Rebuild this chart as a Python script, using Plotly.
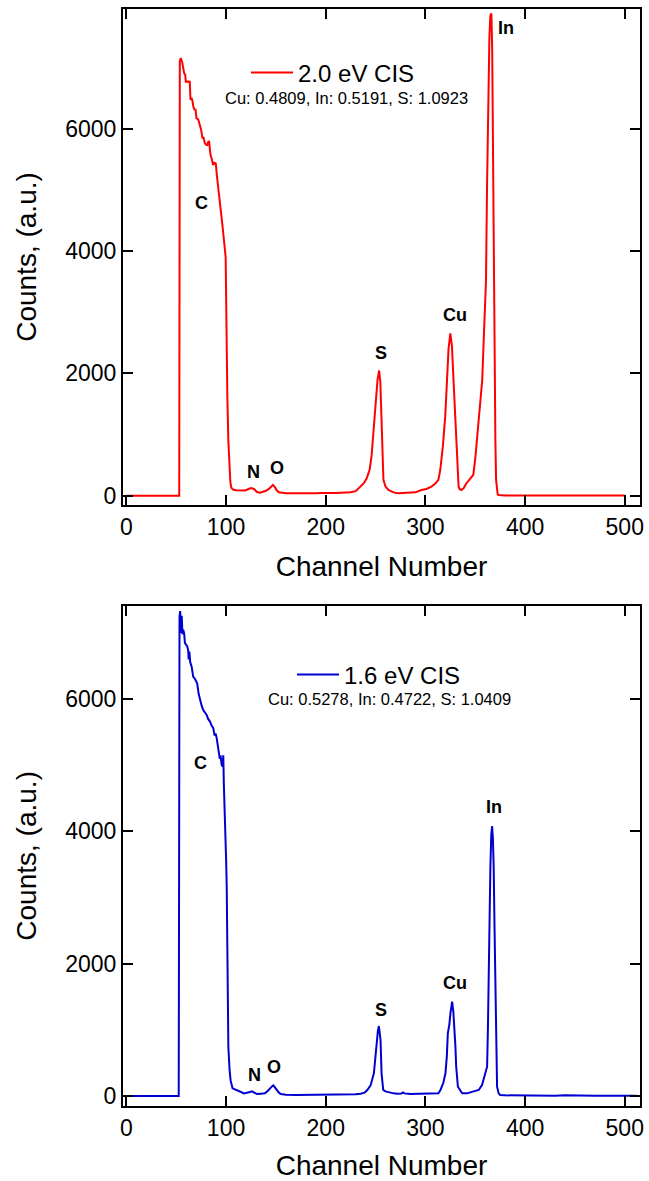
import plotly.graph_objects as go

# ---------------- data ----------------
red_channel = [0, 10, 20, 30, 40, 50, 53, 53.6, 54.6, 56, 57, 58, 59, 59.6, 62, 63.6, 64.3, 65.3, 66.3,
               67.3, 68.6, 69.3, 70.3, 72, 73.6, 75, 76.3, 77.3, 78.7, 80, 81, 82, 83, 83.8, 84.4, 86,
               87, 88.3, 89.7, 91, 92, 93, 94.3, 95.4, 96.8, 97.7, 98.8, 99.6, 100.1, 100.6, 101.3,
               102.3, 103.3, 104.3, 105.3, 107, 110, 113, 116, 119, 122, 125, 128, 131, 134, 137, 140,
               143, 145.5, 147, 149, 151, 153, 156, 160, 165, 170, 175, 180, 185, 190, 195, 200, 205,
               210, 215, 220, 225, 230, 234.5, 238, 241, 244, 246, 247.8, 249.2, 250.5, 252, 253.6,
               254.8, 256.3, 257.2, 257.9, 260, 262.9, 266, 269, 272.9, 278, 284, 290, 296, 301, 306,
               310, 313, 314.9, 317.5, 319.9, 321.7, 323.2, 325, 326.6, 328.2, 330, 331.2, 332.3,
               333.3, 334.3, 336, 338.3, 341, 345, 348, 350, 352.5, 355, 357, 358.4, 359.7, 360.8,
               361.8, 363, 364.2, 365.2, 366.2, 367, 367.8, 368.7, 369.5, 370.2, 370.9, 371.6, 372.5,
               373.5, 376, 380, 390, 400, 420, 440, 460, 480, 500, 512]
red_counts = [0, 0, 0, 0, 0, 0, 0, 7100, 7150, 7080, 6990, 6900, 6880, 6765, 6770, 6765, 6470, 6500,
              6450, 6350, 6300, 6320, 6170, 6150, 6060, 5980, 5840, 5860, 5760, 5740, 5720, 5780, 5785,
              5660, 5570, 5480, 5404, 5440, 5431, 5200, 5070, 4942, 4740, 4560, 4350, 4180, 4020, 3900,
              3200, 2400, 1600, 900, 450, 220, 130, 100, 90, 85, 80, 85, 105, 125, 110, 60, 50, 65, 80,
              110, 150, 175, 140, 85, 55, 45, 42, 40, 38, 42, 36, 40, 38, 44, 40, 42, 44, 48, 50, 55,
              75, 147, 200, 280, 420, 650, 1073, 1400, 1620, 1900, 2046, 1850, 1073, 500, 258, 150,
              94, 70, 50, 40, 45, 50, 55, 94, 110, 147, 200, 258, 420, 805, 1300, 1890, 2400, 2654,
              2450, 1890, 1200, 805, 400, 147, 110, 94, 120, 200, 280, 338, 600, 1070, 1500, 1890,
              2500, 2980, 3525, 5000, 6500, 7500, 7850, 7880, 7300, 5500, 3525, 1890, 900, 258, 90, 20,
              12, 8, 5, 5, 5, 4, 4, 5, 5, 5]

blue_channel = [0, 10, 20, 30, 40, 50, 52.5, 53.3, 54, 54.8, 55.5, 56.3, 57, 58, 58.7, 60, 61, 62,
                62.5, 63.2, 64, 65.5, 66.5, 67, 69, 71, 72.5, 73.8, 75.5, 77.1, 78.5, 80.5, 82, 83.9,
                85.5, 87.2, 88.5, 89.5, 90.6, 91.5, 92.2, 93.5, 94.6, 95.5, 96.6, 97.2, 97.8, 98.5,
                99.5, 100.2, 100.7, 101.2, 102.3, 103.5, 104.5, 106.5, 109, 112, 115, 118, 121, 124,
                126, 128, 131, 135, 139, 142, 144, 146, 147.5, 149, 151, 153, 155, 160, 170, 180, 190,
                200, 210, 220, 230, 235, 239, 241.7, 245, 248.3, 250, 251, 252.3, 253.3, 254.2, 255,
                256, 257.7, 260, 265, 268, 272, 276, 277.5, 279, 285, 290, 300, 308, 313, 315.1, 318,
                320.1, 321.5, 322.5, 324, 325.1, 326.8, 328, 329.2, 330.1, 330.9, 332.6, 336.9, 342,
                345, 349, 353.5, 356.8, 359.2, 361.9, 362.7, 363.5, 364.4, 365.2, 366.1, 366.9, 367.7,
                368.5, 369.4, 370.2, 371, 371.9, 373.5, 375, 380, 390, 400, 410, 420, 430, 440, 450,
                470, 490, 512]
blue_counts = [0, 0, 0, 0, 0, 0, 0, 7250, 7330, 7000, 7260, 6980, 7050, 6990, 6850, 6820, 6800, 6740,
               6600, 6720, 6560, 6490, 6400, 6340, 6300, 6240, 6080, 5990, 5900, 5835, 5800, 5760,
               5700, 5660, 5600, 5560, 5450, 5480, 5410, 5300, 5280, 5120, 5130, 5010, 4980, 5150,
               4700, 4400, 3990, 3500, 3110, 2260, 745, 400, 240, 116, 100, 91, 60, 40, 45, 60, 70,
               50, 30, 35, 40, 80, 116, 145, 160, 130, 90, 50, 30, 20, 15, 15, 15, 15, 15, 18, 25, 35,
               50, 91, 160, 343, 600, 847, 980, 1058, 980, 847, 343, 91, 70, 50, 40, 35, 38, 55, 40,
               30, 30, 30, 35, 40, 91, 200, 343, 600, 948, 1080, 1250, 1426, 1280, 1050, 750, 443,
               141, 40, 40, 55, 70, 91, 167, 300, 443, 1000, 1955, 2800, 3467, 3950, 4082, 3900,
               3467, 2500, 1451, 600, 141, 40, 15, 10, 8, 5, 5, 8, 5, 10, 5, 5, 5, 5]

x_ticks = [0, 100, 200, 300, 400, 500]
y_ticks = [0, 2000, 4000, 6000]

red_name = "2.0 eV CIS"
blue_name = "1.6 eV CIS"
red_ratio = "Cu: 0.4809, In: 0.5191, S: 1.0923"
blue_ratio = "Cu: 0.5278, In: 0.4722, S: 1.0409"

peak_names = ["C", "N", "O", "S", "Cu", "In"]
red_label_ch = [75.4, 127.3, 150.6, 255.3, 330.0, 381.2]
red_label_y = [4788, 392, 448, 2327, 2953, 7648]
blue_label_ch = [73.9, 128.2, 148.1, 255.0, 329.5, 369.2]
blue_label_y = [5039, 317, 443, 1300, 1713, 4374]

# ---------------- figure ----------------
W, H = 649, 1181
ML, MR, MT, MB = 123, 9, 9, 75
plot_h = H - MT - MB


def py(p):
    return (H - MB - p) / plot_h


def px(p):
    return (p - ML) / (W - ML - MR)


FONT = "Arial, 'Liberation Sans', sans-serif"

fig = go.Figure()
fig.add_trace(go.Scatter(x=red_channel, y=red_counts, mode="lines", name=red_name,
                         line=dict(color="#ff0000", width=2), xaxis="x", yaxis="y",
                         legend="legend"))
fig.add_trace(go.Scatter(x=blue_channel, y=blue_counts, mode="lines", name=blue_name,
                         line=dict(color="#0000d0", width=2), xaxis="x2", yaxis="y2",
                         legend="legend2"))

axis_common = dict(showline=True, linewidth=2, linecolor="black", mirror="allticks",
                   ticks="inside", ticklen=10, tickwidth=2, tickcolor="black",
                   showgrid=False, zeroline=False, automargin=False,
                   tickfont=dict(family=FONT, size=23, color="black"))

xr = [-3.4, 515.3]
fig.update_layout(
    width=W, height=H,
    margin=dict(l=ML, r=MR, t=MT, b=MB),
    paper_bgcolor="white", plot_bgcolor="white",
    font=dict(family=FONT, color="black"),
    xaxis=dict(domain=[0, 1], range=xr, tickvals=x_ticks, anchor="y",
               title=dict(text="Channel Number", font=dict(size=28), standoff=18), **axis_common),
    yaxis=dict(domain=[py(505), 1], range=[-152, 7953], tickvals=y_ticks, anchor="x",
               title=dict(text="Counts, (a.u.)", font=dict(size=28), standoff=20), **axis_common),
    xaxis2=dict(domain=[0, 1], range=xr, tickvals=x_ticks, anchor="y2",
                title=dict(text="Channel Number", font=dict(size=28), standoff=18), **axis_common),
    yaxis2=dict(domain=[0, py(605.7)], range=[-151, 7412], tickvals=y_ticks, anchor="x2",
                title=dict(text="Counts, (a.u.)", font=dict(size=28), standoff=20), **axis_common),
    legend=dict(x=px(246), y=py(73), xanchor="left", yanchor="middle", itemwidth=42,
                bgcolor="rgba(0,0,0,0)", font=dict(size=24, family=FONT)),
    legend2=dict(x=px(292), y=py(675), xanchor="left", yanchor="middle", itemwidth=42,
                 bgcolor="rgba(0,0,0,0)", font=dict(size=24, family=FONT)),
    showlegend=True,
)

annotations = []
annotations.append(dict(text=red_ratio, x=221, y=6498, xref="x", yref="y", showarrow=False,
                        font=dict(size=16.5, family=FONT, color="black")))
annotations.append(dict(text=blue_ratio, x=263.6, y=6001, xref="x2", yref="y2", showarrow=False,
                        font=dict(size=16.5, family=FONT, color="black")))
for name, cx, cy in zip(peak_names, red_label_ch, red_label_y):
    annotations.append(dict(text="<b>%s</b>" % name, x=cx, y=cy, xref="x", yref="y",
                            showarrow=False, font=dict(size=18, family=FONT, color="black")))
for name, cx, cy in zip(peak_names, blue_label_ch, blue_label_y):
    annotations.append(dict(text="<b>%s</b>" % name, x=cx, y=cy, xref="x2", yref="y2",
                            showarrow=False, font=dict(size=18, family=FONT, color="black")))
fig.update_layout(annotations=annotations)

fig.write_html("out.html")
